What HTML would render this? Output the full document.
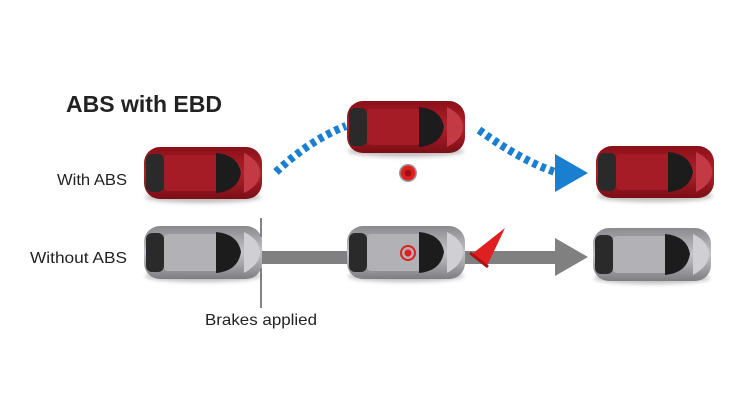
<!DOCTYPE html>
<html><head><style>
html,body{margin:0;padding:0;background:#fff;}
svg{display:block;}
text{font-family:"Liberation Sans",sans-serif;fill:#222;}
</style></head><body>
<svg width="750" height="405" viewBox="0 0 750 405" xmlns="http://www.w3.org/2000/svg">
<defs>
<linearGradient id="rb" x1="0" y1="0" x2="0" y2="1"><stop offset="0" stop-color="#8a1018"/><stop offset="0.5" stop-color="#b0202c"/><stop offset="1" stop-color="#7a0e16"/></linearGradient>
<linearGradient id="gb" x1="0" y1="0" x2="0" y2="1"><stop offset="0" stop-color="#8a8a8e"/><stop offset="0.5" stop-color="#c4c4c8"/><stop offset="1" stop-color="#7e7e82"/></linearGradient>
<filter id="sh" x="-10%" y="-20%" width="120%" height="160%"><feGaussianBlur stdDeviation="2"/></filter>
<g id="carR">
<ellipse cx="59" cy="50" rx="58" ry="6" fill="#000" opacity="0.25" filter="url(#sh)"/>
<rect x="0" y="0" width="118" height="52" rx="16" fill="url(#rb)"/>
<rect x="2" y="7" width="18" height="38" rx="6" fill="#2a2a2a"/>
<rect x="20" y="8" width="55" height="36" rx="4" fill="#a51c26"/>
<path d="M72 6 Q94 8 97 26 Q94 44 72 46 Z" fill="#1c1c1c"/>
<path d="M100 6 Q116 14 116 26 Q116 38 100 46 Z" fill="#c43a44"/>
</g>
<g id="carG">
<ellipse cx="59" cy="50" rx="58" ry="6" fill="#000" opacity="0.25" filter="url(#sh)"/>
<rect x="0" y="0" width="118" height="53" rx="16" fill="url(#gb)"/>
<rect x="2" y="7" width="18" height="39" rx="6" fill="#2a2a2a"/>
<rect x="20" y="8" width="55" height="37" rx="4" fill="#b2b2b6"/>
<path d="M72 6 Q94 8 97 26 Q94 45 72 47 Z" fill="#1c1c1c"/>
<path d="M100 6 Q116 14 116 26 Q116 38 100 47 Z" fill="#d0d0d4"/>
</g>
</defs>

<text x="66" y="112" font-size="23" font-weight="bold" fill="#1a1a1a" textLength="156" lengthAdjust="spacingAndGlyphs">ABS with EBD</text>
<text x="57" y="185" font-size="16" textLength="70" lengthAdjust="spacingAndGlyphs">With ABS</text>
<text x="30" y="263" font-size="16" textLength="97" lengthAdjust="spacingAndGlyphs">Without ABS</text>
<text x="205" y="325" font-size="16" textLength="112" lengthAdjust="spacingAndGlyphs">Brakes applied</text>

<!-- blue dashed arcs -->
<path d="M276 172 Q310 140 346 126" fill="none" stroke="#1a7fd0" stroke-width="8" stroke-dasharray="5 4"/>
<path d="M479 130 Q520 160 555 172" fill="none" stroke="#1a7fd0" stroke-width="8" stroke-dasharray="5 4"/>
<polygon points="555,154 588,173 555,192" fill="#1a7fd0"/>

<!-- gray arrow -->
<rect x="262" y="251" width="295" height="13" fill="#808080"/>
<polygon points="555,238 588,257 555,276" fill="#808080"/>
<line x1="261" y1="218" x2="261" y2="308" stroke="#333" stroke-width="1.2"/>

<use href="#carR" x="144" y="147"/>
<use href="#carR" x="347" y="101"/>
<use href="#carR" x="596" y="146"/>
<use href="#carG" x="144" y="226"/>
<use href="#carG" x="347" y="226"/>
<use href="#carG" x="593" y="228"/>

<!-- red markers -->
<circle cx="408" cy="173" r="9" fill="#999"/>
<circle cx="408" cy="173" r="7.5" fill="#e02020"/>
<circle cx="408" cy="173" r="3.5" fill="#a01010"/>
<circle cx="408" cy="253" r="7" fill="none" stroke="#e02020" stroke-width="2"/>
<circle cx="408" cy="253" r="3.5" fill="#e02020"/>

<!-- cone -->
<polygon points="505,228 472,254 487,266" fill="#e02020"/>
<line x1="470" y1="253" x2="488" y2="267" stroke="#b01010" stroke-width="3"/>
</svg>
</body></html>
